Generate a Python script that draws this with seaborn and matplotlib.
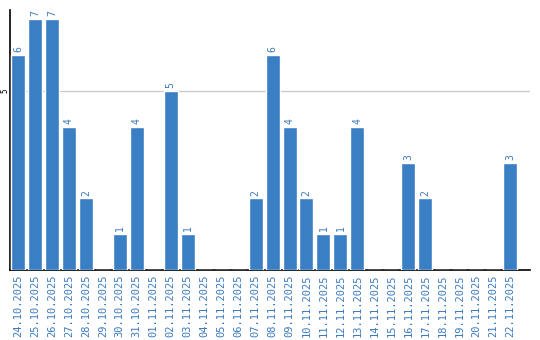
import matplotlib
matplotlib.use("Agg")
import matplotlib.pyplot as plt
import seaborn as sns
import pandas as pd

dates = ["24.10.2025", "25.10.2025", "26.10.2025", "27.10.2025", "28.10.2025", "29.10.2025",
         "30.10.2025", "31.10.2025", "01.11.2025", "02.11.2025", "03.11.2025", "04.11.2025",
         "05.11.2025", "06.11.2025", "07.11.2025", "08.11.2025", "09.11.2025", "10.11.2025",
         "11.11.2025", "12.11.2025", "13.11.2025", "14.11.2025", "15.11.2025", "16.11.2025",
         "17.11.2025", "18.11.2025", "19.11.2025", "20.11.2025", "21.11.2025", "22.11.2025"]
values = [6, 7, 7, 4, 2, 0, 1, 4, 0, 5, 1, 0, 0, 0, 2, 6, 4, 2, 1, 1, 4, 0, 0, 3, 2, 0, 0, 0, 0, 3]

df = pd.DataFrame({"date": dates, "value": values})

sns.set_style("white")
plt.rcParams['font.family'] = ['DejaVu Sans Mono', 'DejaVu Sans']

fig = plt.figure(figsize=(5.4, 3.4), dpi=100)
ax = fig.add_axes([10/540, 70/340, 520/540, 260/340])

bar_color = "#3a7ec3"
text_color = "#3a7abf"
sns.barplot(data=df, x="date", y="value", color=bar_color, width=0.825, ax=ax,
            saturation=1, zorder=3)

for i, v in enumerate(values):
    if v > 0:
        ax.text(i, v + 0.08, str(v), rotation=90, ha="center", va="bottom",
                fontsize=7, color=text_color, zorder=4)

ax.set_ylim(0, 7.26)
ax.set_xlim(-0.47, 30.17)
ax.set_yticks([5])
ax.set_yticklabels(["5"], fontsize=5.5, color="black")
ax.tick_params(axis="y", length=0, pad=0.5)
for lab in ax.get_yticklabels():
    lab.set_rotation(90)
    lab.set_va("center")
ax.yaxis.grid(True, color="#c8c8c8", linewidth=0.9, zorder=0)
ax.set_xticks(range(len(dates)))
ax.set_xticklabels(dates, rotation=90, fontsize=7.5, color=text_color)
ax.tick_params(axis="x", length=0, pad=3)
ax.set_xlabel("")
ax.set_ylabel("")
for s in ["top", "right"]:
    ax.spines[s].set_visible(False)
ax.spines["left"].set_color("black")
ax.spines["bottom"].set_color("black")
ax.spines["left"].set_linewidth(1.2)
ax.spines["bottom"].set_linewidth(1.2)

fig.savefig("out.png", dpi=100)
